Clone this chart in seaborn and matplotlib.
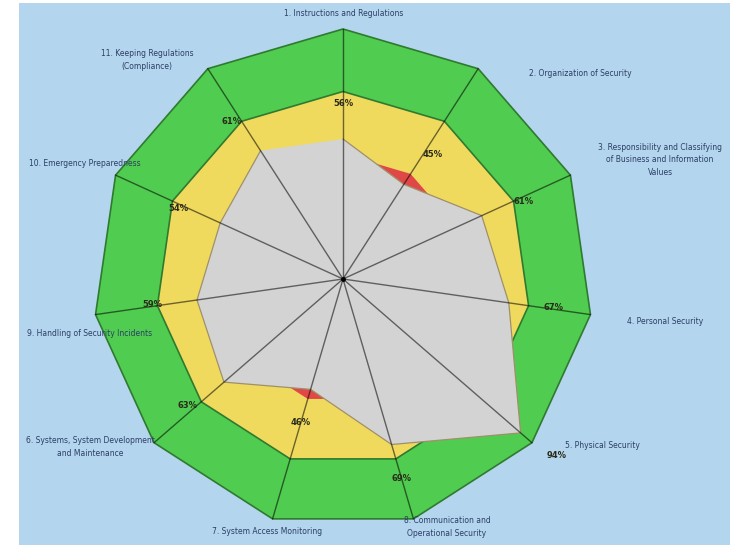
import numpy as np
import pandas as pd
import matplotlib
matplotlib.use("Agg")
import matplotlib.pyplot as plt
import seaborn as sns

# ---- data (clockwise from top) ----
categories = [
    "1. Instructions and Regulations",
    "2. Organization of Security",
    "3. Responsibility and Classifying\nof Business and Information\nValues",
    "4. Personal Security",
    "5. Physical Security",
    "8. Communication and\nOperational Security",
    "7. System Access Monitoring",
    "6. Systems, System Development\nand Maintenance",
    "9. Handling of Security Incidents",
    "10. Emergency Preparedness",
    "11. Keeping Regulations\n(Compliance)",
]
values = [56, 45, 61, 67, 94, 69, 46, 63, 59, 54, 61]
value_labels = ["56%", "45%", "61%", "67%", "94%", "69%", "46%", "63%", "59%", "54%", "61%"]
band_levels = [100, 75, 50]  # green, yellow, red thresholds

# ---- layout (label anchor points in data units, not data) ----
label_pos = [(0.4, 106), (94.8, 82.4), (126.8, 47.6), (128.8, -17.2), (103.6, -66.4),
             (41.6, -99.2), (-30.4, -101.2), (-101.2, -67.2), (-101.2, -21.6),
             (-103.2, 46.4), (-78.4, 87.6)]

sns.set_theme(style="white")
plt.rcParams['font.family'] = ['DejaVu Sans']

n = len(categories)
theta = np.arange(n) * 2 * np.pi / n


def poly(r):
    r = np.asarray(r, dtype=float) * np.ones(n)
    x = r * np.sin(theta)
    y = r * np.cos(theta)
    return np.append(x, x[0]), np.append(y, y[0])


fig = plt.figure(figsize=(7.38, 5.45), dpi=100)
fig.patch.set_facecolor("white")
ax = fig.add_axes([19 / 738, 0, 711 / 738, 542 / 545])
ax.set_facecolor("#b3d5ed")
ax.set_xlim(-129.6, 154.8)
ax.set_ylim(-106.4, 110.4)
for s in ax.spines.values():
    s.set_visible(False)
ax.set_xticks([])
ax.set_yticks([])

band_colors = ["#50cc50", "#efda5e", "#e04848"]
for lvl, col in zip(band_levels, band_colors):
    x, y = poly(lvl)
    ec = "#2f7a2f" if lvl != 50 else "none"
    ax.fill(x, y, facecolor=col, edgecolor=ec, linewidth=1.2, zorder=1)

# data polygon
x, y = poly(values)
ax.fill(x, y, facecolor="#d3d3d3", edgecolor="none", zorder=2)
df = pd.DataFrame({"x": x, "y": y})
sns.lineplot(data=df, x="x", y="y", sort=False, color="#a0906a", linewidth=0.9,
             ax=ax, zorder=3, legend=False)
ax.set_xlabel("")
ax.set_ylabel("")

# spokes
for t in theta:
    ax.plot([0, 100 * np.sin(t)], [0, 100 * np.cos(t)], color="black", alpha=0.55,
            linewidth=1.0, zorder=4)
ax.plot([0], [0], marker="o", markersize=2.5, color="black", zorder=5)

# percent labels
for t, v, lab in zip(theta, values, value_labels):
    r = v + 14
    s = np.sin(t)
    ha = "center" if abs(s) < 0.3 else ("left" if s > 0 else "right")
    ax.text(r * np.sin(t), r * np.cos(t), lab, ha=ha, va="center", fontsize=6,
            fontweight="bold", color="#2a2a1a", zorder=6)

# category labels
for (lx, ly), name in zip(label_pos, categories):
    ax.text(lx, ly, name, ha="center", va="center", fontsize=5.5, color="#2c3e66",
            linespacing=1.5, zorder=6)

fig.savefig("out.png", dpi=100, facecolor="white")
